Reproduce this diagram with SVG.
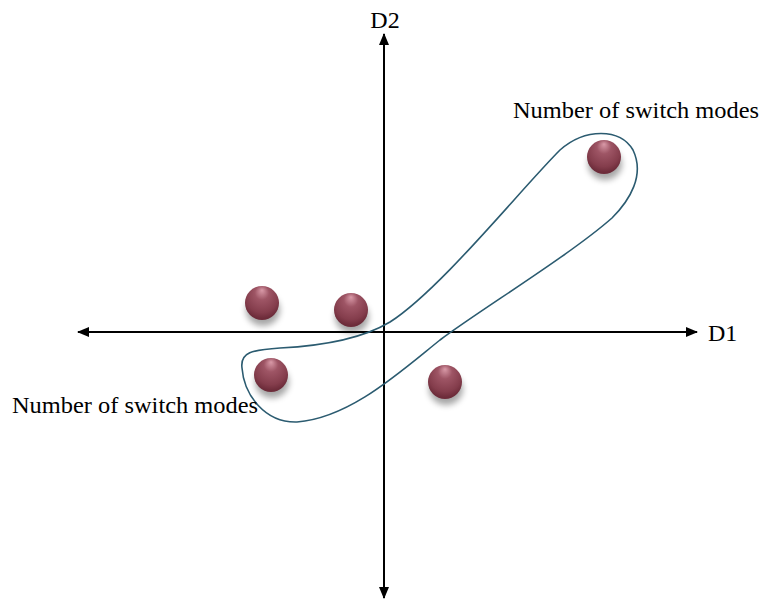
<svg xmlns="http://www.w3.org/2000/svg" width="760" height="601" viewBox="0 0 760 601">
<style>
.lbl{font-family:"Liberation Serif","Times New Roman",serif;font-size:24px;fill:#000}
.axis{stroke:#000;stroke-width:2;fill:none}
.loop{stroke:#2b5b70;stroke-width:1.6;fill:none}
.ball{fill:url(#bg)}
.sh{fill:#000;opacity:0.35;filter:url(#blur)}
</style>
<defs>
<marker id="ah" viewBox="0 0 12 10" refX="11" refY="5" markerWidth="12" markerHeight="10" markerUnits="userSpaceOnUse" orient="auto">
<path d="M0,0 L12,5 L0,10 Z" fill="#000"/>
</marker>
<radialGradient id="bg" cx="0.5" cy="0.35" r="0.6" fx="0.5" fy="0.12">
<stop offset="0" stop-color="#d99aa8"/>
<stop offset="0.35" stop-color="#9e5565"/>
<stop offset="0.8" stop-color="#843d4c"/>
<stop offset="1" stop-color="#6d2c3a"/>
</radialGradient>
<filter id="blur" x="-50%" y="-50%" width="200%" height="200%"><feGaussianBlur stdDeviation="3"/></filter>
</defs>
<g id="connectors">
<line class="axis" x1="384" y1="332" x2="697" y2="332" marker-end="url(#ah)"/>
<line class="axis" x1="384" y1="332" x2="78" y2="332" marker-end="url(#ah)"/>
<line class="axis" x1="384" y1="332" x2="384" y2="34" marker-end="url(#ah)"/>
<line class="axis" x1="384" y1="332" x2="384" y2="598" marker-end="url(#ah)"/>
</g>
<g id="cluster">
<path class="loop" d="M 242,368 C 240,352 252,350 280,348 C 320,346 360,340 390,322 C 440,290 520,190 560,150 C 585,128 620,128 633,150 C 645,175 630,200 612,218 C 570,255 480,310 440,340 C 400,372 350,418 297,422 C 265,423 244,395 242,368 Z"/>
</g>
<g id="ball1"><ellipse class="sh" cx="263" cy="310" rx="17" ry="16"/><circle class="ball" cx="262" cy="303" r="17"/></g>
<g id="ball2"><ellipse class="sh" cx="352" cy="317" rx="17" ry="16"/><circle class="ball" cx="351" cy="310" r="17"/></g>
<g id="ball3"><ellipse class="sh" cx="272" cy="382" rx="17" ry="16"/><circle class="ball" cx="271" cy="375" r="17"/></g>
<g id="ball4"><ellipse class="sh" cx="446" cy="389" rx="17" ry="16"/><circle class="ball" cx="445" cy="382" r="17"/></g>
<g id="ball5"><ellipse class="sh" cx="605" cy="164" rx="17" ry="16"/><circle class="ball" cx="604" cy="157" r="17"/></g>
<g id="labels">
<text class="lbl" x="385" y="28" text-anchor="middle">D2</text>
<text class="lbl" x="708" y="341">D1</text>
<text class="lbl" x="513" y="118" textLength="246" lengthAdjust="spacingAndGlyphs">Number of switch modes</text>
<text class="lbl" x="12" y="413" textLength="246" lengthAdjust="spacingAndGlyphs">Number of switch modes</text>
</g>
</svg>
